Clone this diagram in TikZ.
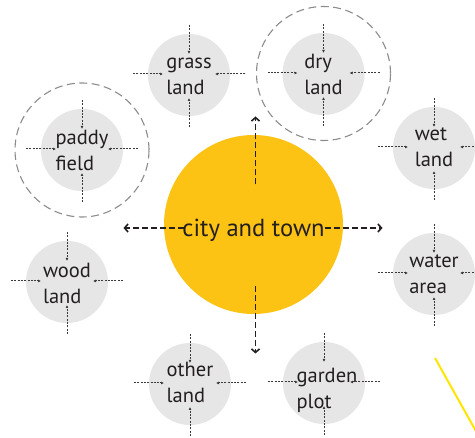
\documentclass[tikz,border=0pt]{standalone}
\usepackage{fontspec}
\setmainfont{PT Sans}
\usetikzlibrary{arrows.meta}
\definecolor{cyel}{HTML}{FCC314}
\definecolor{cgrey}{HTML}{E6E6E6}
\definecolor{ctext}{HTML}{231F20}
\definecolor{carr}{HTML}{3A3A3A}
\definecolor{cring}{HTML}{8C8C8C}
\definecolor{cline}{HTML}{FFE600}
\tikzset{
  land/.style={circle,fill=cgrey,minimum size=82pt,inner sep=0pt},
  lbl/.style={text=ctext,align=left,inner sep=0pt,font=\fontsize{20.5}{26}\selectfont},
  ring/.style={circle,draw=cring,line width=1.1pt,dash pattern=on 8pt off 4.5pt,minimum size=134pt,inner sep=0pt},
  city/.style={circle,fill=cyel,minimum size=179pt,inner sep=0pt},
  citytext/.style={text=ctext,font=\fontsize{24.6}{28}\selectfont,inner sep=0pt},
  inarr/.style={draw=carr,line width=1pt,dash pattern=on 2pt off 1.3pt,-{Latex[length=3pt,width=3pt]}},
  outarr/.style={draw=ctext,line width=1.5pt,dash pattern=on 6pt off 3pt,
    -{Straight Barb[length=3.5pt,width=8pt,line width=1.6pt]}},
}
\newcommand\lt[2]{\vphantom{lp}#1\\\vphantom{lp}#2}
\newcommand\inarrows[1]{%
  \draw[inarr] ([shift={(-56,-1)}]#1.center) -- ([shift={(-26,-1)}]#1.center);
  \draw[inarr] ([shift={(56,-1)}]#1.center) -- ([shift={(26,-1)}]#1.center);
  \draw[inarr] ([shift={(0,-50)}]#1.center) -- ([shift={(0,-21)}]#1.center);
  \draw[inarr] ([shift={(0,52)}]#1.center) -- ([shift={(0,23)}]#1.center);
}
\begin{document}
\begin{tikzpicture}[x=1pt,y=-1pt]
\useasboundingbox (0,0) rectangle (475,438);
\clip (0,0) rectangle (475,438);
\fill[white] (0,0) rectangle (475,438);
% city
\node[city] (city) at (253.5,224.5) {};
\node[citytext] (citylabel) at (253.5,230.5) {city and town};
% rings
\node[ring] (paddyring) at (82,150) {};
\node[ring] (dryring) at (323.5,73.5) {};
% lands
\node[land,label={[lbl,yshift=-1pt]center:\lt{grass}{land}}] (grass) at (189,75) {};
\node[land,label={[lbl,yshift=-2.5pt]center:\lt{paddy}{field}}] (paddy) at (82,150) {};
\node[land,label={[lbl,yshift=-2.5pt]center:\lt{dry}{land}}] (dry) at (323.5,74) {};
\node[land,label={[lbl,yshift=0pt]center:\lt{wet}{land}}] (wet) at (434,148) {};
\node[land,label={[lbl,yshift=-3.5pt]center:\lt{wood}{land}}] (wood) at (67,282) {};
\node[land,label={[lbl,yshift=-1pt]center:\lt{water}{area}}] (water) at (434,274) {};
\node[land,label={[lbl,yshift=0pt]center:\lt{other}{land}}] (other) at (190,384) {};
\node[land,label={[lbl,yshift=-7pt,xshift=3pt]center:\lt{garden}{plot}}] (garden) at (324,383) {};
\foreach \n in {grass,paddy,dry,wet,wood,water,other,garden}{\inarrows{\n}}
% city arrows
\draw[outarr] ([shift={(2,-40)}]city.center) -- ([shift={(2,-108)}]city.center);
\draw[outarr] ([shift={(2,62)}]city.center) -- ([shift={(2,129)}]city.center);
\draw[outarr] ([shift={(-70,3.5)}]city.center) -- ([shift={(-130,3.5)}]city.center);
\draw[outarr] ([shift={(71,3.5)}]city.center) -- ([shift={(129,3.5)}]city.center);
% yellow line
\coordinate (ls) at (435,358);
\coordinate (le) at (477,433);
\draw[cline,line width=2pt] (ls) -- (le);
\end{tikzpicture}
\end{document}
